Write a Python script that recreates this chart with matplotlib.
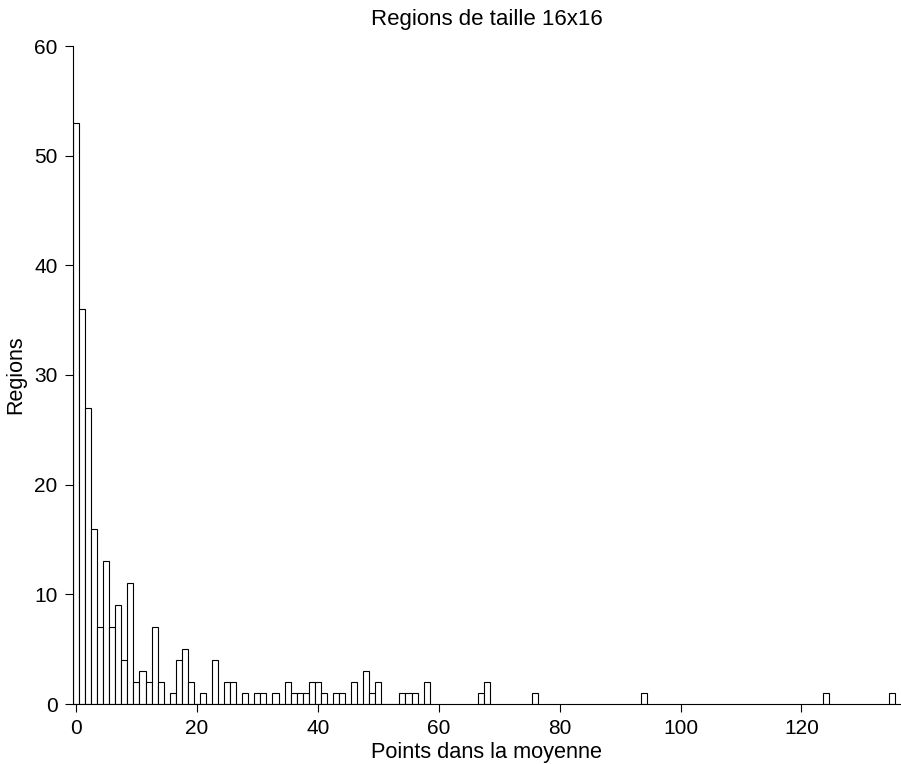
import matplotlib
matplotlib.use("Agg")
import matplotlib.pyplot as plt

plt.rcParams['font.family'] = ['Liberation Sans', 'DejaVu Sans']

# Data: number of regions per count of points in the average
points = [0, 1, 2, 3, 4, 5, 6, 7, 8, 9, 10, 11, 12, 13, 14, 15, 16, 17, 18, 19,
          20, 21, 22, 23, 24, 25, 26, 27, 28, 29, 30, 31, 32, 33, 34, 35, 36, 37, 38, 39,
          40, 41, 42, 43, 44, 45, 46, 47, 48, 49, 50, 51, 52, 53, 54, 55, 56, 57, 58,
          67, 68, 76, 94, 124, 135]
regions = [53, 36, 27, 16, 7, 13, 7, 9, 4, 11, 2, 3, 2, 7, 2, 0, 1, 4, 5, 2,
           0, 1, 0, 4, 0, 2, 2, 0, 1, 0, 1, 1, 0, 1, 0, 2, 1, 1, 1, 2,
           2, 1, 0, 1, 1, 0, 2, 0, 3, 1, 2, 0, 0, 0, 1, 1, 1, 0, 2,
           1, 2, 1, 1, 1, 1]

title = "Regions de taille 16x16"
xlabel = "Points dans la moyenne"
ylabel = "Regions"
xticks = [0, 20, 40, 60, 80, 100, 120]
yticks = [0, 10, 20, 30, 40, 50, 60]

fig = plt.figure(figsize=(9.01, 7.64), dpi=100)
ax = fig.add_axes([73 / 901, 1 - 704 / 764, (900 - 73) / 901, (704 - 46) / 764])

ax.bar(points, regions, width=1.0, align='center', facecolor='white',
       edgecolor='black', linewidth=0.8)

ax.set_xlim(-0.5, 136.3)
ax.set_ylim(0, 60)
ax.set_xticks(xticks)
ax.set_yticks(yticks)
ax.spines['top'].set_visible(False)
ax.spines['right'].set_visible(False)
for s in ['left', 'bottom']:
    ax.spines[s].set_linewidth(0.8)
ax.tick_params(direction='out', length=6, width=0.8, labelsize=15, pad=5)

ax.set_title(title, fontsize=16, pad=15)
ax.set_xlabel(xlabel, fontsize=15.7, labelpad=3)
ax.set_ylabel(ylabel, fontsize=15.5, labelpad=6)

fig.savefig("out.png", dpi=100)
